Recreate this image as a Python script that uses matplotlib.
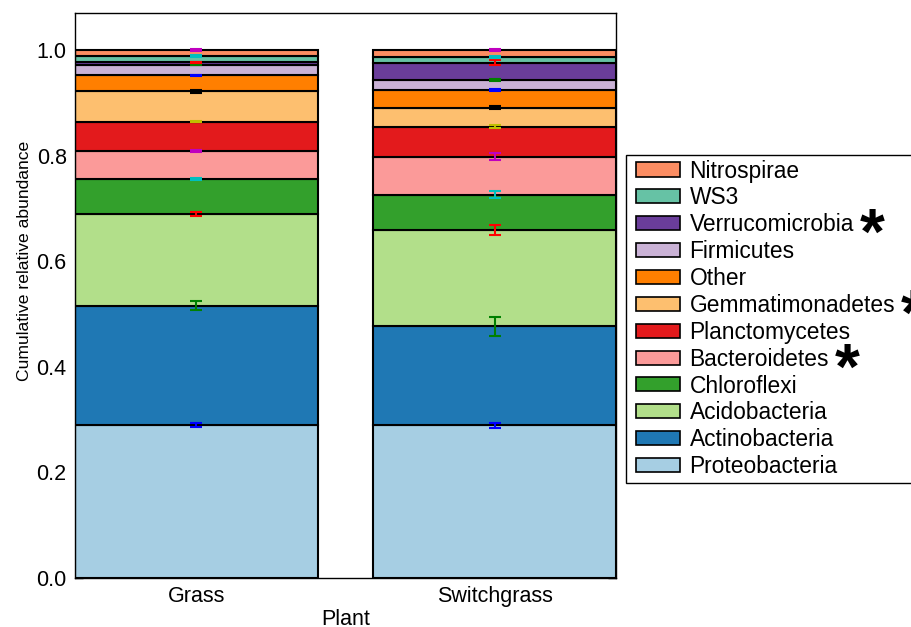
import matplotlib
matplotlib.use("Agg")
import matplotlib.pyplot as plt
import numpy as np
from matplotlib.patches import Patch, Rectangle
from matplotlib.legend_handler import HandlerPatch

plt.rcParams['font.family'] = ['Liberation Sans', 'DejaVu Sans']

plants = ["Grass", "Switchgrass"]

phyla = ["Proteobacteria", "Actinobacteria", "Acidobacteria", "Chloroflexi",
         "Bacteroidetes", "Planctomycetes", "Gemmatimonadetes", "Other",
         "Firmicutes", "Verrucomicrobia", "WS3", "Nitrospirae"]

# relative abundance of each phylum (Grass, Switchgrass)
proteobacteria   = [0.290, 0.289]
actinobacteria   = [0.226, 0.188]
acidobacteria    = [0.174, 0.182]
chloroflexi      = [0.066, 0.067]
bacteroidetes    = [0.053, 0.072]
planctomycetes   = [0.055, 0.057]
gemmatimonadetes = [0.058, 0.036]
other            = [0.030, 0.033]
firmicutes       = [0.020, 0.019]
verrucomicrobia  = [0.005, 0.033]
ws3              = [0.012, 0.011]
nitrospirae      = [0.011, 0.013]

# standard errors (Grass, Switchgrass)
err_proteobacteria   = [0.004, 0.005]
err_actinobacteria   = [0.008, 0.018]
err_acidobacteria    = [0.004, 0.010]
err_chloroflexi      = [0.002, 0.006]
err_bacteroidetes    = [0.002, 0.006]
err_planctomycetes   = [0.001, 0.002]
err_gemmatimonadetes = [0.003, 0.002]
err_other            = [0.001, 0.002]
err_firmicutes       = [0.001, 0.002]
err_verrucomicrobia  = [0.001, 0.005]
err_ws3              = [0.002, 0.002]
err_nitrospirae      = [0.002, 0.002]

significant = ["Verrucomicrobia", "Gemmatimonadetes", "Bacteroidetes"]

values = [proteobacteria, actinobacteria, acidobacteria, chloroflexi,
          bacteroidetes, planctomycetes, gemmatimonadetes, other,
          firmicutes, verrucomicrobia, ws3, nitrospirae]
errors = [err_proteobacteria, err_actinobacteria, err_acidobacteria,
          err_chloroflexi, err_bacteroidetes, err_planctomycetes,
          err_gemmatimonadetes, err_other, err_firmicutes,
          err_verrucomicrobia, err_ws3, err_nitrospirae]

fill_colors = ["#a6cee3", "#1f78b4", "#b2df8a", "#33a02c", "#fb9a99",
               "#e31a1c", "#fdbf6f", "#ff7f00", "#cab2d6", "#6a3d9a",
               "#66c2a5", "#fc8d62"]
err_colors = ["b", "g", "r", "c", "m", "y", "k", "b", "g", "r", "c", "m"]

W, H = 912, 627
fig = plt.figure(figsize=(W / 100, H / 100), dpi=100)
ax = fig.add_axes([75 / W, 1 - 578 / H, (616 - 75) / W, (578 - 13) / H])

x = np.arange(len(plants))
width = 0.815
bottom = np.zeros(len(plants))
for name, vals, errs, fc, ec in zip(phyla, values, errors, fill_colors, err_colors):
    vals = np.array(vals)
    ax.bar(x, vals, width, bottom=bottom, color=fc, edgecolor="black",
           linewidth=1.5, label=name, zorder=2)
    top = bottom + vals
    ax.errorbar(x, top, yerr=errs, fmt="none", ecolor=ec, elinewidth=1.5,
                capsize=4.5, capthick=1.5, zorder=5)
    bottom = top

ax.set_xlim(-width / 2, len(plants) - 1 + width / 2)
ax.set_ylim(0, 1.07)
ax.set_xticks(x)
ax.set_xticklabels(plants)
ax.set_yticks(np.arange(0, 1.01, 0.2))
ax.set_yticklabels([f"{v:.1f}" for v in np.arange(0, 1.01, 0.2)])
ax.tick_params(axis="both", direction="in", labelsize=15.5, length=5.5,
               width=1, pad=6)
ax.tick_params(axis="y", right=True)
ax.tick_params(axis="x", top=False)
for sp in ax.spines.values():
    sp.set_linewidth(1.0)

ax.set_xlabel("Plant", fontsize=15.5, labelpad=1)
ax.set_ylabel("Cumulative relative abundance", fontsize=12.6)
ax.yaxis.set_label_coords(-0.079, 0.561)


# legend swatches inset a little from the frame's left edge
SWATCH_INSET = 3.8


def swatch(legend, orig_handle, xdescent, ydescent, width, height, fontsize):
    return Rectangle((-xdescent + SWATCH_INSET, -ydescent),
                     width - SWATCH_INSET, height)


handles = [Patch(facecolor=fc, edgecolor="black", linewidth=1.2)
           for fc in fill_colors][::-1]
leg = fig.legend(handles, phyla[::-1], loc="upper left",
                 bbox_to_anchor=(626 / W, 1 - 482 / H, (930 - 626) / W,
                                 (482 - 155) / H),
                 mode="expand", borderaxespad=0,
                 fontsize=16.4, frameon=True, fancybox=False,
                 edgecolor="black", framealpha=1, handlelength=2.17,
                 handleheight=0.57, handletextpad=0.42, labelspacing=0.17,
                 borderpad=0.2,
                 handler_map={Patch: HandlerPatch(patch_func=swatch)})
leg.get_frame().set_linewidth(1.0)

# bold asterisks after significantly different phyla
fig.canvas.draw()
renderer = fig.canvas.get_renderer()
for txt in leg.get_texts():
    if txt.get_text() in significant:
        bb = txt.get_window_extent(renderer)
        fig.text((bb.x1 + 6) / W, (bb.y0 + bb.y1) / 2 / H - 0.047, "*",
                 fontsize=46, fontweight="bold", ha="left", va="baseline",
                 zorder=10)

fig.savefig("out.png", dpi=100)
